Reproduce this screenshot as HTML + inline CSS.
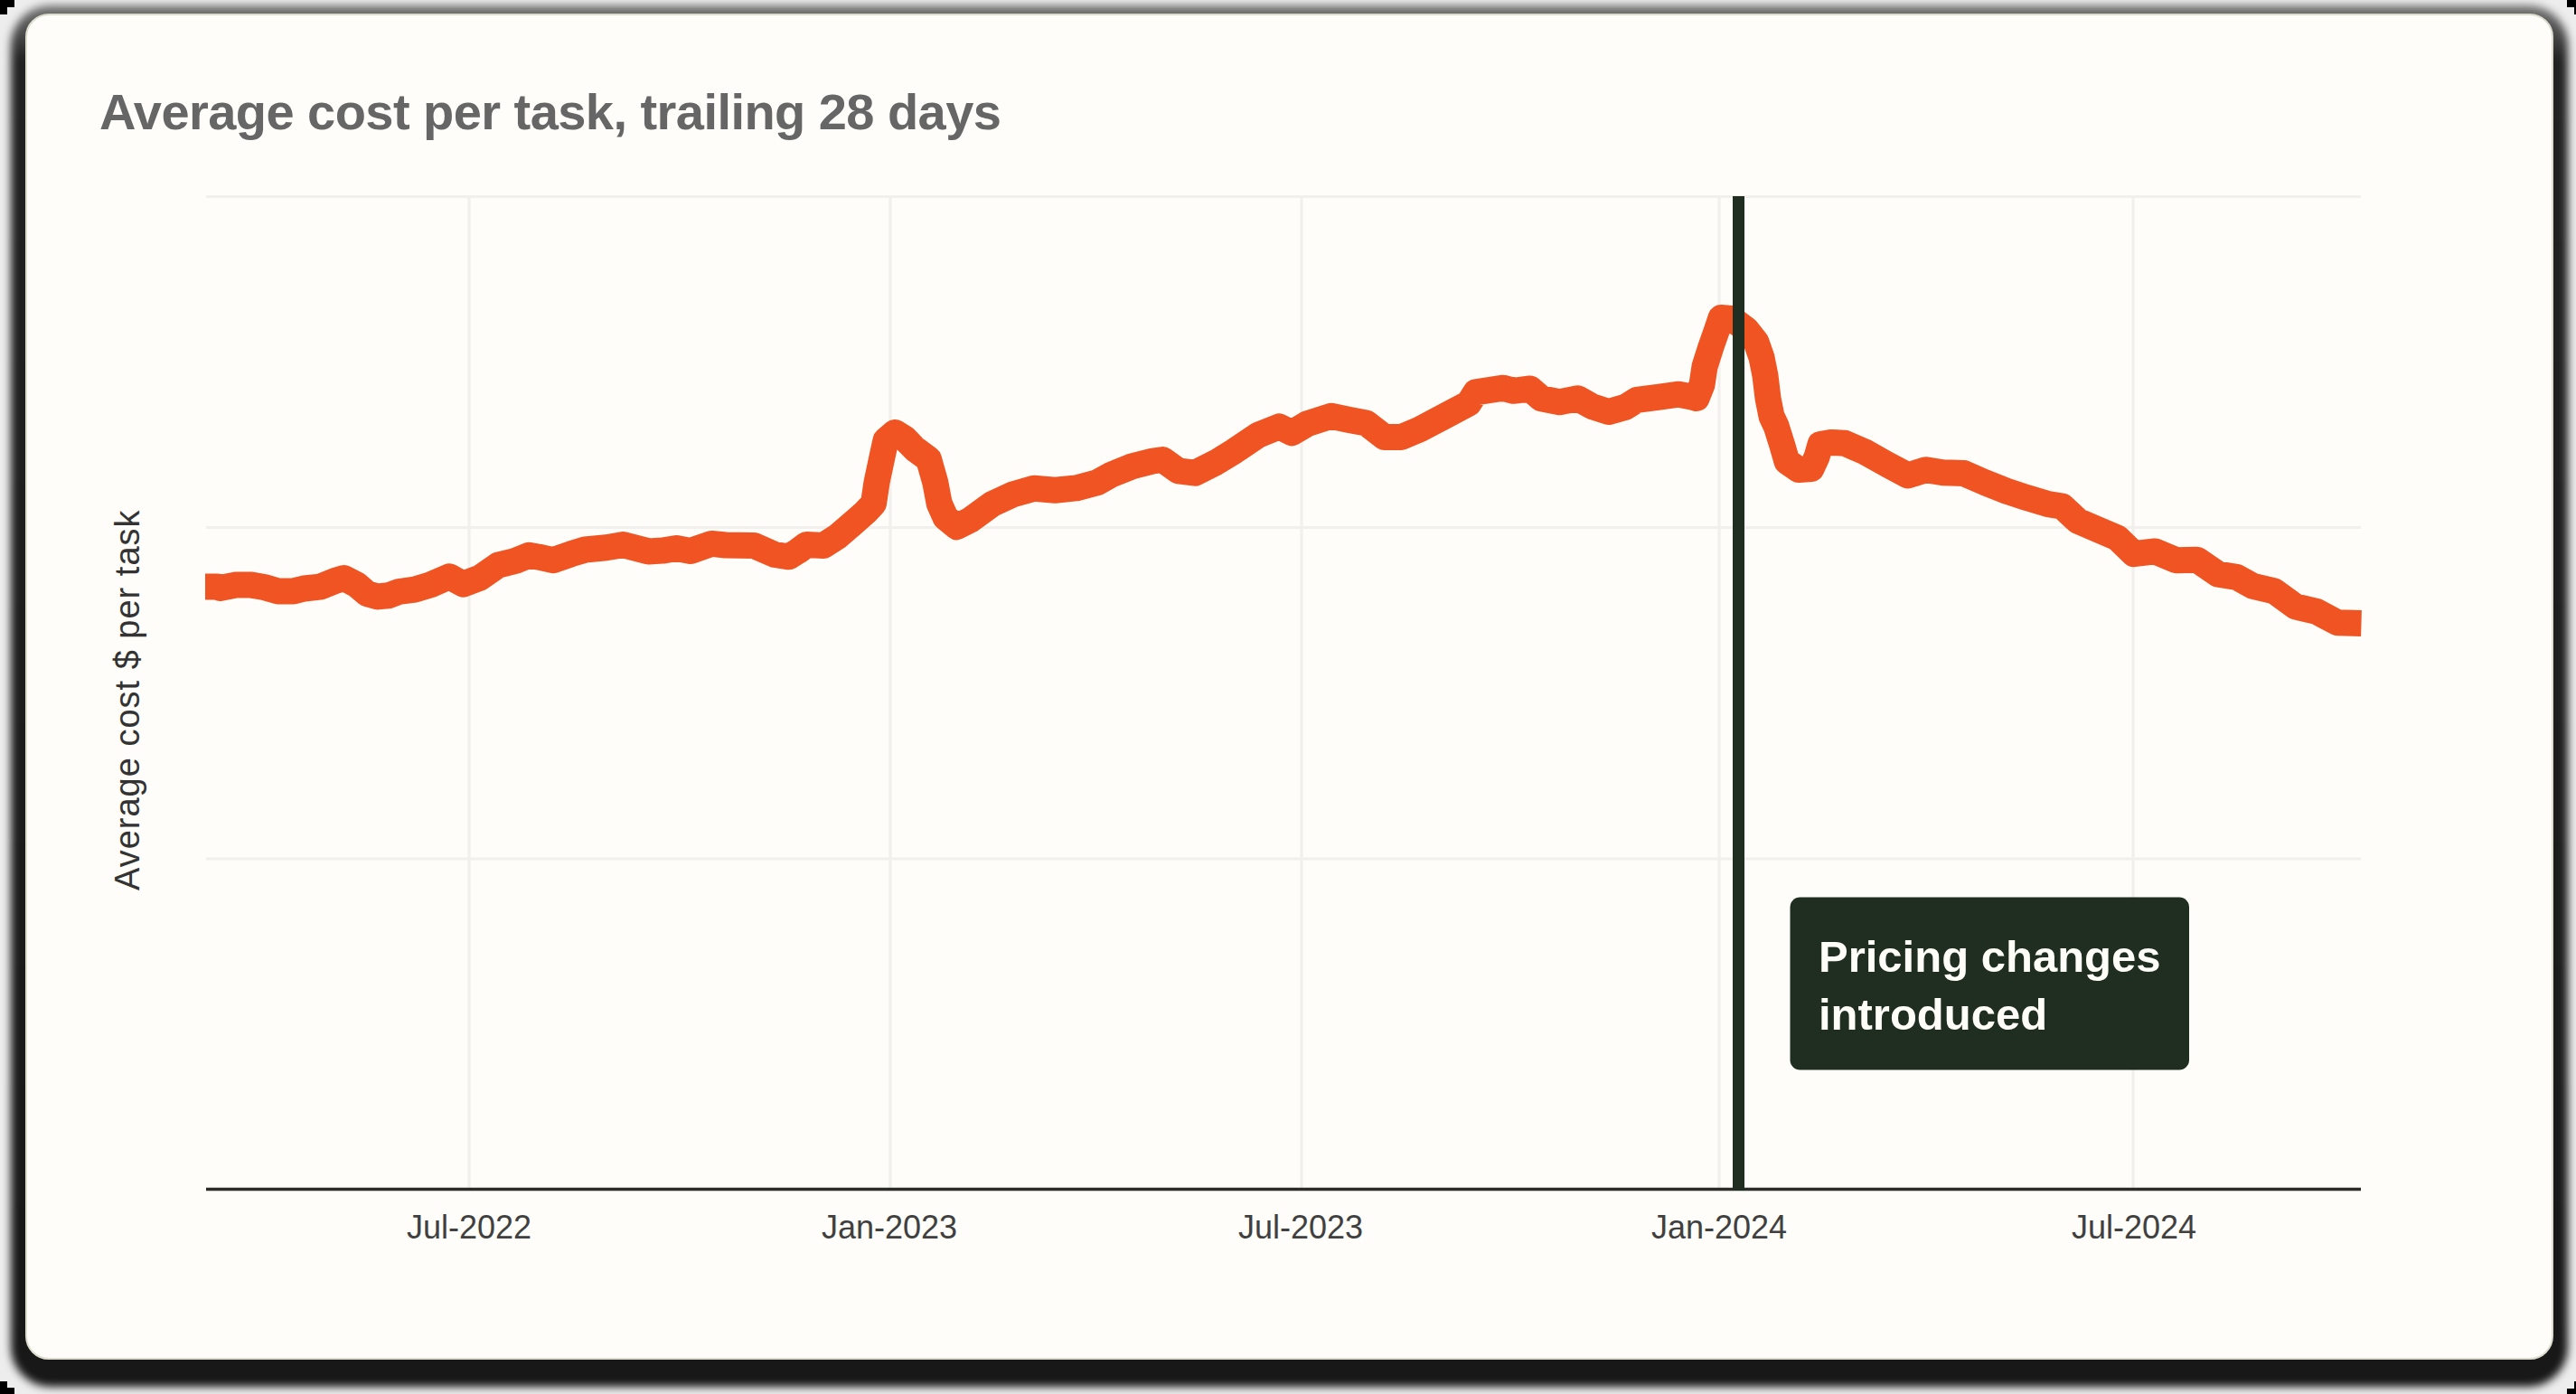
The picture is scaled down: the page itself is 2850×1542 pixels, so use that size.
<!DOCTYPE html>
<html><head><meta charset="utf-8"><style>
html,body{margin:0;padding:0;}
body{width:2850px;height:1542px;overflow:hidden;position:relative;background:#ededed;font-family:"Liberation Sans",sans-serif;}
.shadow{position:absolute;left:12px;top:6px;width:2829px;height:1528px;border-radius:44px;background:linear-gradient(to bottom,rgba(0,0,0,0.5) 0px,rgba(0,0,0,0.86) 60px,rgba(0,0,0,0.9) 100%);filter:blur(5px);}
.blk{position:absolute;background:#000;}
.card{position:absolute;left:28px;top:15px;width:2797px;height:1489px;border-radius:26px;background:#fefdf9;
box-sizing:border-box;border:2px solid #dddccf;}
svg{position:absolute;left:0;top:0;}
</style></head><body>
<div class="shadow"></div>
<div class="blk" style="left:0;top:0;width:16px;height:8px"></div><div class="blk" style="left:0;top:8px;width:8px;height:8px"></div>
<div class="blk" style="left:2840px;top:0;width:10px;height:8px"></div><div class="blk" style="left:2848px;top:8px;width:2px;height:8px"></div>
<div class="blk" style="left:0;top:1535px;width:16px;height:7px"></div><div class="blk" style="left:0;top:1528px;width:8px;height:7px"></div>
<div class="blk" style="left:2840px;top:1536px;width:10px;height:6px"></div><div class="blk" style="left:2848px;top:1528px;width:2px;height:8px"></div>
<div class="card"></div>
<svg width="2850" height="1542" viewBox="0 0 2850 1542">
<g stroke="#f1f0ec" stroke-width="3.2" fill="none">
<line x1="228" y1="217.5" x2="2612" y2="217.5"/>
<line x1="228" y1="583.5" x2="2612" y2="583.5"/>
<line x1="228" y1="950" x2="2612" y2="950"/>
<line x1="519" y1="217" x2="519" y2="1314"/>
<line x1="985" y1="217" x2="985" y2="1314"/>
<line x1="1440" y1="217" x2="1440" y2="1314"/>
<line x1="1902" y1="217" x2="1902" y2="1314"/>
<line x1="2360" y1="217" x2="2360" y2="1314"/>
</g>
<line x1="228" y1="1315.5" x2="2612" y2="1315.5" stroke="#2b2b27" stroke-width="3.5"/>
<path d="M227.0,648.9 L240.0,648.9 L243.3,650.5 L260.8,647.1 L278.2,647.1 L292.2,649.5 L307.3,653.9 L324.8,653.9 L336.5,651.0 L353.9,649.2 L371.4,642.2 L380.7,639.5 L394.7,646.9 L406.3,656.8 L418.0,659.9 L429.6,658.8 L441.3,654.5 L458.7,652.1 L476.2,646.9 L497.2,637.8 L512.4,646.1 L531.0,639.1 L551.2,625.1 L569.9,620.5 L585.4,614.3 L596.3,616.2 L611.8,619.7 L632.0,612.7 L647.5,608.0 L670.8,605.7 L689.4,602.6 L717.4,609.9 L732.9,609.1 L748.4,606.5 L764.0,609.5 L787.3,601.4 L802.8,603.0 L833.9,603.4 L857.1,613.5 L872.7,615.8 L883.0,609.5 L892.4,602.5 L911.0,603.5 L926.6,593.5 L945.2,577.5 L957.6,566.5 L966.5,557.0 L970.0,533.5 L976.6,502.5 L980.0,487.1 L990.2,478.4 L1001.0,485.1 L1012.0,496.5 L1027.5,508.0 L1034.8,533.7 L1039.2,557.0 L1046.1,572.5 L1058.6,582.7 L1074.0,574.8 L1097.4,557.7 L1120.7,546.9 L1144.0,540.2 L1167.3,542.2 L1190.6,539.9 L1213.9,533.7 L1229.4,525.1 L1252.7,515.8 L1275.5,510.0 L1286.4,508.5 L1303.5,520.8 L1322.1,523.2 L1345.4,511.5 L1365.6,499.1 L1392.0,481.2 L1415.3,471.9 L1429.3,478.9 L1446.3,468.8 L1472.7,460.3 L1492.9,464.5 L1511.6,468.0 L1531.7,483.5 L1550.4,483.5 L1570.6,475.0 L1601.6,458.7 L1624.9,446.3 L1632.7,433.9 L1663.3,429.2 L1674.2,432.3 L1692.8,430.0 L1705.2,440.8 L1725.4,444.7 L1745.6,440.8 L1761.1,449.4 L1779.8,455.6 L1798.4,450.2 L1810.8,442.4 L1834.1,439.3 L1857.4,436.2 L1872.9,439.3 L1877.0,440.5 L1883.0,425.5 L1886.0,405.5 L1893.0,383.5 L1899.0,366.5 L1904.0,351.5 L1916.0,352.5 L1932.0,364.5 L1943.0,378.5 L1949.0,395.5 L1953.0,415.5 L1956.0,440.5 L1960.0,460.5 L1965.2,471.5 L1971.8,492.5 L1977.0,510.5 L1990.0,519.5 L2004.0,518.5 L2010.0,505.5 L2014.0,491.5 L2025.4,489.4 L2041.0,490.2 L2064.2,500.3 L2087.5,513.5 L2110.8,525.9 L2131.0,519.7 L2149.6,522.8 L2172.9,523.6 L2196.2,533.7 L2219.5,543.0 L2242.8,550.7 L2266.1,557.7 L2281.6,560.1 L2298.8,576.2 L2322.1,586.3 L2342.3,594.8 L2360.9,612.7 L2384.2,609.9 L2407.5,619.7 L2430.8,619.2 L2454.1,635.2 L2474.3,638.3 L2492.9,648.4 L2516.2,653.9 L2539.5,670.9 L2562.8,676.4 L2586.1,688.8 L2612.5,689.5" fill="none" stroke="#f05423" stroke-width="29" stroke-linejoin="round" stroke-linecap="butt"/>
<rect x="1917" y="217" width="13" height="1100" fill="#1f2e20"/>
<rect x="1980.5" y="992.5" width="441.5" height="191" rx="11" fill="#1f2e20"/>
<g font-family="Liberation Sans" fill="#fefdf8" font-weight="bold" font-size="49">
<text x="2012" y="1075.3">Pricing changes</text>
<text x="2012" y="1138.6">introduced</text>
</g>
<text x="110" y="143" font-family="Liberation Sans" font-weight="bold" font-size="56" letter-spacing="-0.55" fill="#666666">Average cost per task, trailing 28 days</text>
<g font-family="Liberation Sans" font-size="36" fill="#404040" text-anchor="middle">
<text x="519" y="1370">Jul-2022</text>
<text x="984" y="1370">Jan-2023</text>
<text x="1439" y="1370">Jul-2023</text>
<text x="1902" y="1370">Jan-2024</text>
<text x="2361" y="1370">Jul-2024</text>
</g>
<text transform="translate(153.7,985) rotate(-90)" font-family="Liberation Sans" font-size="38" letter-spacing="1" fill="#333333">Average cost $ per task</text>
</svg>
</body></html>
